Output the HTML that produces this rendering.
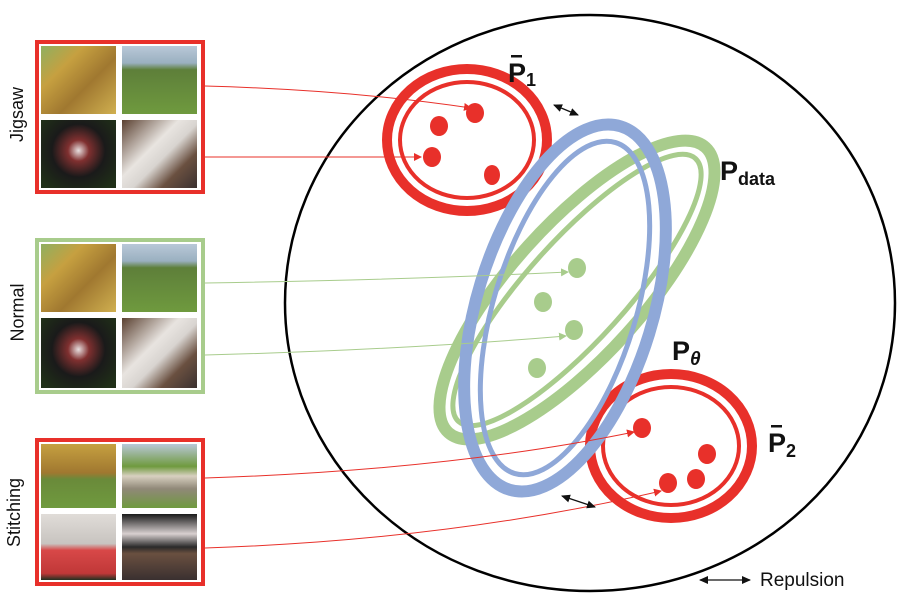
<!DOCTYPE html>
<html><head><style>
body{margin:0;width:900px;height:600px;background:#fff;overflow:hidden;position:relative;font-family:"Liberation Sans",sans-serif}
.box{position:absolute;left:35px;width:162px;border:4px solid #e8302a;background:#fff}
.t{position:absolute;width:75px}
.lab{position:absolute;font-size:18px;color:#111;transform:rotate(-90deg);transform-origin:center;white-space:nowrap}
.dog{background:linear-gradient(135deg,#8fb060 0%,#c6a040 30%,#a07830 60%,#d0b050 100%)}
.field{background:linear-gradient(180deg,#b9c8d8 0%,#9ab0c0 25%,#5e7f3a 35%,#6f9a3e 100%)}
.foot{background:radial-gradient(ellipse at 50% 45%,#e8e0e0 0%,#803030 20%,#1a1a1a 50%,#203018 90%)}
.room{background:linear-gradient(135deg,#5a4030 0%,#e8e4e0 40%,#d8d4d0 55%,#6a5040 75%,#3a3030 100%)}
</style></head><body>

<div class="box" style="top:40px;height:146px">
 <div class="t dog" style="left:2px;top:2px;height:68px"></div>
 <div class="t field" style="left:83px;top:2px;height:68px"></div>
 <div class="t foot" style="left:2px;top:76px;height:68px"></div>
 <div class="t room" style="left:83px;top:76px;height:68px"></div>
</div>
<div class="box" style="top:238px;height:148px;border-color:#a8cc8c">
 <div class="t dog" style="left:2px;top:2px;height:68px"></div>
 <div class="t field" style="left:83px;top:2px;height:68px"></div>
 <div class="t foot" style="left:2px;top:76px;height:70px"></div>
 <div class="t room" style="left:83px;top:76px;height:70px"></div>
</div>
<div class="box" style="top:438px;height:140px">
 <div class="t" style="left:2px;top:2px;height:64px;background:linear-gradient(180deg,#c6a040 0%,#a07830 45%,#6a8a3a 55%,#6f9a3e 100%)"></div>
 <div class="t" style="left:83px;top:2px;height:64px;background:linear-gradient(180deg,#b9c8d8 0%,#6f9a3e 35%,#d8d0c0 50%,#908878 70%,#6f9a3e 100%)"></div>
 <div class="t" style="left:2px;top:72px;height:66px;background:linear-gradient(180deg,#e0dcd8 0%,#c8c4c0 45%,#d84848 55%,#c03838 90%,#203020 100%)"></div>
 <div class="t" style="left:83px;top:72px;height:66px;background:linear-gradient(180deg,#1a1a1a 0%,#d8d0d0 30%,#2a2a2a 50%,#6a5040 60%,#3a3030 100%)"></div>
</div>
<div class="lab" style="left:-10px;top:104px">Jigsaw</div>
<div class="lab" style="left:-11px;top:302px">Normal</div>
<div class="lab" style="left:-20px;top:502px">Stitching</div>

<svg width="900" height="600" style="position:absolute;left:0;top:0" font-family="Liberation Sans, DejaVu Sans, sans-serif">
<defs>
<marker id="r" markerWidth="8" markerHeight="8" refX="7" refY="4" orient="auto" markerUnits="userSpaceOnUse"><path d="M0,0L8,4L0,8z" fill="#e8302a"/></marker>
<marker id="g" markerWidth="8" markerHeight="8" refX="7" refY="4" orient="auto" markerUnits="userSpaceOnUse"><path d="M0,0L8,4L0,8z" fill="#a8cc8c"/></marker>
<marker id="k" markerWidth="9" markerHeight="8" refX="8" refY="4" orient="auto-start-reverse" markerUnits="userSpaceOnUse"><path d="M0,0L9,4L0,8z" fill="#111"/></marker>
</defs>
<ellipse cx="590" cy="303" rx="305" ry="288" fill="none" stroke="#000" stroke-width="2.5"/>
<!-- red 1 -->
<ellipse cx="467" cy="140" rx="80" ry="71" fill="none" stroke="#e8302a" stroke-width="10"/>
<ellipse cx="467" cy="140" rx="67" ry="58" fill="none" stroke="#e8302a" stroke-width="4"/>
<ellipse cx="475" cy="113" rx="9" ry="10" fill="#e8302a"/>
<ellipse cx="439" cy="126" rx="9" ry="10" fill="#e8302a"/>
<ellipse cx="432" cy="157" rx="9" ry="10" fill="#e8302a"/>
<ellipse cx="492" cy="175" rx="8" ry="10" fill="#e8302a"/>
<!-- red 2 -->
<ellipse cx="671" cy="446" rx="81" ry="72" fill="none" stroke="#e8302a" stroke-width="10"/>
<ellipse cx="671" cy="446" rx="68" ry="59" fill="none" stroke="#e8302a" stroke-width="4"/>
<ellipse cx="642" cy="428" rx="9" ry="10" fill="#e8302a"/>
<ellipse cx="707" cy="454" rx="9" ry="10" fill="#e8302a"/>
<ellipse cx="696" cy="479" rx="9" ry="10" fill="#e8302a"/>
<ellipse cx="668" cy="483" rx="9" ry="10" fill="#e8302a"/>
<!-- green -->
<g transform="translate(577,290) rotate(42)">
<ellipse cx="0" cy="0" rx="66" ry="192" fill="none" stroke="#a8cc8c" stroke-width="12"/>
<ellipse cx="0" cy="0" rx="50" ry="177" fill="none" stroke="#a8cc8c" stroke-width="5"/>
</g>
<ellipse cx="577" cy="268" rx="9" ry="10" fill="#a8cc8c"/>
<ellipse cx="543" cy="302" rx="9" ry="10" fill="#a8cc8c"/>
<ellipse cx="574" cy="330" rx="9" ry="10" fill="#a8cc8c"/>
<ellipse cx="537" cy="368" rx="9" ry="10" fill="#a8cc8c"/>
<!-- blue -->
<g transform="translate(565,308) rotate(17)">
<ellipse cx="0" cy="0" rx="88" ry="190" fill="none" stroke="#8fa8d8" stroke-width="12"/>
<ellipse cx="0" cy="0" rx="71" ry="173" fill="none" stroke="#8fa8d8" stroke-width="5"/>
</g>
<!-- connectors -->
<path d="M205,86 Q350,90 471,108" fill="none" stroke="#e8302a" stroke-width="1" marker-end="url(#r)"/>
<path d="M205,157 L421,157" fill="none" stroke="#e8302a" stroke-width="1" marker-end="url(#r)"/>
<path d="M205,283 Q400,280 568,272" fill="none" stroke="#a8cc8c" stroke-width="1" marker-end="url(#g)"/>
<path d="M205,355 Q400,350 566,336" fill="none" stroke="#a8cc8c" stroke-width="1" marker-end="url(#g)"/>
<path d="M205,478 Q450,470 634,432" fill="none" stroke="#e8302a" stroke-width="1" marker-end="url(#r)"/>
<path d="M205,548 Q450,540 661,491" fill="none" stroke="#e8302a" stroke-width="1" marker-end="url(#r)"/>
<!-- repulsion arrows -->
<line x1="554" y1="105" x2="578" y2="115" stroke="#111" stroke-width="1.3" marker-start="url(#k)" marker-end="url(#k)"/>
<line x1="562" y1="496" x2="595" y2="507" stroke="#111" stroke-width="1.3" marker-start="url(#k)" marker-end="url(#k)"/>
<line x1="700" y1="580" x2="750" y2="580" stroke="#111" stroke-width="1.3" marker-start="url(#k)" marker-end="url(#k)"/>
<text x="760" y="586" font-size="19" fill="#111">Repulsion</text>
<!-- labels -->
<text x="508" y="82" font-size="27" font-weight="bold" fill="#111">P<tspan font-size="18" dy="4">1</tspan></text>
<rect x="511" y="55" width="11" height="2.5" fill="#111"/>
<text x="720" y="180" font-size="27" font-weight="bold" fill="#111">P<tspan font-size="18" dy="5">data</tspan></text>
<text x="672" y="360" font-size="27" font-weight="bold" fill="#111">P<tspan font-size="19" dy="5" font-style="italic">θ</tspan></text>
<text x="768" y="452" font-size="27" font-weight="bold" fill="#111">P<tspan font-size="18" dy="5">2</tspan></text>
<rect x="771" y="425" width="11" height="2.5" fill="#111"/>
</svg>
</body></html>
